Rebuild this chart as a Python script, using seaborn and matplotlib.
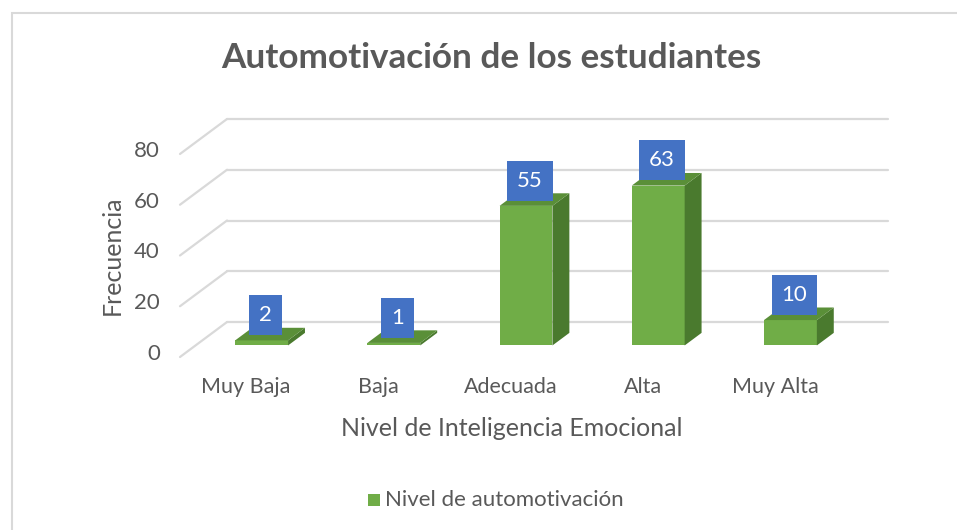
import numpy as np
import pandas as pd
import seaborn as sns
import matplotlib.pyplot as plt
from matplotlib.patches import Polygon, Rectangle
from matplotlib.transforms import ScaledTranslation


# DATA
niveles = ['Muy Baja', 'Baja', 'Adecuada', 'Alta', 'Muy Alta']
frecuencia = [2, 1, 55, 63, 10]
y_ticks = [0, 20, 40, 60, 80]
serie = 'Nivel de automotivación'

df = pd.DataFrame({'Nivel': niveles, 'Frecuencia': frecuencia})


# STYLE
sns.set_style('white')
plt.rcParams['font.family'] = ['Lato', 'DejaVu Sans']
TXT = '#595959'
GRID = '#D9D9D9'
FRONT = '#70AD47'
SIDE = '#4A7A2E'
TOP = '#5A8F38'
BOX = '#4472C4'


fig = plt.figure(figsize=(9.57, 5.30), dpi=100)
ax = fig.add_axes([180 / 957, (530 - 357) / 530, 708 / 957, 238 / 530])

# 3D depth (full floor depth) in data units
depth_x = 47 / 132.2
depth_y = 35 / 2.54
bar_w = 0.4
d0, d1 = 0.33, 0.69  # where the bar sits inside the depth

# back wall gridlines + diagonals on the side wall
for v in y_ticks:
    ax.plot([-0.5 + depth_x, len(niveles) - 0.5 + depth_x], [v + depth_y, v + depth_y],
            color=GRID, lw=1.6, zorder=1, clip_on=False)
    ax.plot([-0.5, -0.5 + depth_x], [v, v + depth_y], color=GRID, lw=1.6, zorder=1, clip_on=False)
    ax.text(-0.5, v, f'{v}', ha='right', va='center', fontsize=16, color=TXT,
            transform=ax.transData + ScaledTranslation(-20 / 100, 3 / 100, fig.dpi_scale_trans))

# front faces through seaborn
sns.barplot(data=df, x='Nivel', y='Frecuencia', color=FRONT, width=bar_w, saturation=1,
            ax=ax, zorder=3)
ax.set_xlim(-0.5, len(niveles) - 0.5 + depth_x)
ax.set_ylim(0, 80 + depth_y)
ax.axis('off')

ox0, oy0 = d0 * depth_x, d0 * depth_y
ox1, oy1 = d1 * depth_x, d1 * depth_y
for patch, val in zip(ax.patches, frecuencia):
    x = patch.get_x()
    w = patch.get_width()
    patch.set_xy((x + ox0, oy0))
    patch.set_edgecolor('none')
    l, r = x + ox0, x + w + ox0
    side = [(r, oy0), (r + ox1 - ox0, oy1), (r + ox1 - ox0, val + oy1), (r, val + oy0)]
    top = [(l, val + oy0), (r, val + oy0), (r + ox1 - ox0, val + oy1), (l + ox1 - ox0, val + oy1)]
    ax.add_patch(Polygon(side, closed=True, facecolor=SIDE, edgecolor='none', zorder=3))
    ax.add_patch(Polygon(top, closed=True, facecolor=TOP, edgecolor='none', zorder=3))
    # value label box
    cx = x + w / 2 + ox0 + 0.03
    ax.text(cx, val + oy1 + 5, f'{val}', ha='center', va='center', fontsize=16,
            color='white', zorder=5,
            bbox=dict(boxstyle='square,pad=0.45', facecolor=BOX, edgecolor='none'))

# category labels on the front edge
for i, name in enumerate(niveles):
    ax.text(i, -12, name, ha='center', va='center', fontsize=15.5, color=TXT, clip_on=False)

fig.text(512 / 957, 1 - 428 / 530, 'Nivel de Inteligencia Emocional', ha='center', va='center',
         fontsize=18, color=TXT)
fig.text(112 / 957, 1 - 255 / 530, 'Frecuencia', ha='center', va='center', rotation=90,
         fontsize=18, color=TXT)
fig.text(491 / 957, 1 - 58 / 530, 'Automotivación de los estudiantes', ha='center', va='center',
         fontsize=25.3, fontweight='bold', color=TXT)

# legend
fig.patches.append(Rectangle((368 / 957, 1 - 506 / 530), 12 / 957, 12 / 530, transform=fig.transFigure,
                             facecolor=FRONT, edgecolor='none'))
fig.text(385 / 957, 1 - 500 / 530, serie, ha='left', va='center', fontsize=16, color=TXT)

# chart border
fig.patches.append(Rectangle((12 / 957, -0.05), 1.0, 1 - 13 / 530 + 0.05, transform=fig.transFigure,
                             facecolor='none', edgecolor=GRID, lw=1.5))

fig.savefig('out.png', dpi=100)
